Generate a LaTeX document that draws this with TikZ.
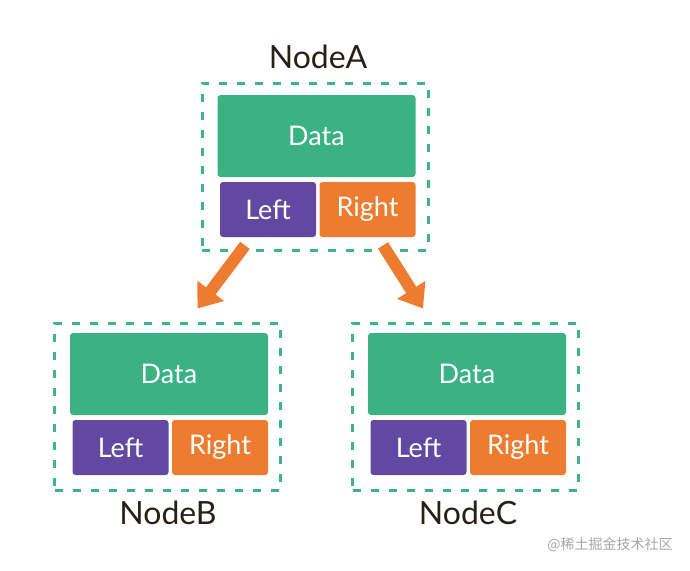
\documentclass[tikz,border=0pt]{standalone}
\usepackage{fontspec}
\setmainfont{Lato}
\newfontfamily\cjk{Noto Sans CJK SC}
\usepackage{tikz}
\usetikzlibrary{arrows.meta,positioning,calc}

\definecolor{datagreen}{RGB}{58,178,132}
\definecolor{leftpurple}{RGB}{98,72,160}
\definecolor{rightorange}{RGB}{238,124,48}
\definecolor{dashgreen}{RGB}{62,180,140}
\definecolor{labelink}{RGB}{40,32,22}

\begin{document}
\begin{tikzpicture}[x=0.5pt, y=-0.5pt,
    data cell/.style={rectangle, rounded corners=1.5pt, fill=datagreen, text=white,
        minimum width=99pt, minimum height=41pt, inner sep=0pt, font=\fontsize{13.5}{15}\selectfont},
    ptr cell/.style={rectangle, rounded corners=1.5pt, text=white,
        minimum width=48pt, minimum height=27.5pt, inner sep=0pt, font=\fontsize{13.5}{15}\selectfont},
    frame/.style={rectangle, draw=dashgreen, line width=1.5pt, dash pattern=on 4pt off 5pt,
        minimum width=113pt, minimum height=83.5pt, inner sep=0pt},
    title/.style={text=labelink, font=\fontsize{16}{18}\selectfont},
    fat arrow/.style={draw=rightorange, line width=6pt,
        -{Triangle[length=11pt, width=16pt]}}
]
    \useasboundingbox (0,0) rectangle (690,570);

    % NodeA
    \node[frame] (boxA) at (315,166.5) {};
    \node[data cell] (dataA) at (316.5,136) {Data};
    \node[ptr cell, fill=leftpurple] (leftA) at (268,209.5) {Left};
    \node[ptr cell, fill=rightorange] (rightA) at (367.5,209.5) {Right};
    \node[title] (labelA) at (318,57) {NodeA};

    % NodeB
    \node[frame] (boxB) at (167.5,406.5) {};
    \node[data cell] (dataB) at (169,374) {Data};
    \node[ptr cell, fill=leftpurple] (leftB) at (120.5,447.5) {Left};
    \node[ptr cell, fill=rightorange] (rightB) at (220,447.5) {Right};
    \node[title] (labelB) at (168,513) {NodeB};

    % NodeC
    \node[frame] (boxC) at (465.5,406.5) {};
    \node[data cell] (dataC) at (467,374) {Data};
    \node[ptr cell, fill=leftpurple] (leftC) at (418.5,447.5) {Left};
    \node[ptr cell, fill=rightorange] (rightC) at (518,447.5) {Right};
    \node[title] (labelC) at (468,513) {NodeC};

    % pointers
    \draw[fat arrow] ($(leftA.south)+(-23,8)$) -- ($(boxB.north)+(30,-13)$);
    \draw[fat arrow] ($(rightA.south)+(15.5,8)$) -- ($(boxC.north)+(-42.5,-13)$);

    % watermark
    \node[text=black!35, font=\cjk\fontsize{7}{8}\selectfont] (mark) at (610,545) {@稀土掘金技术社区};
\end{tikzpicture}
\end{document}
